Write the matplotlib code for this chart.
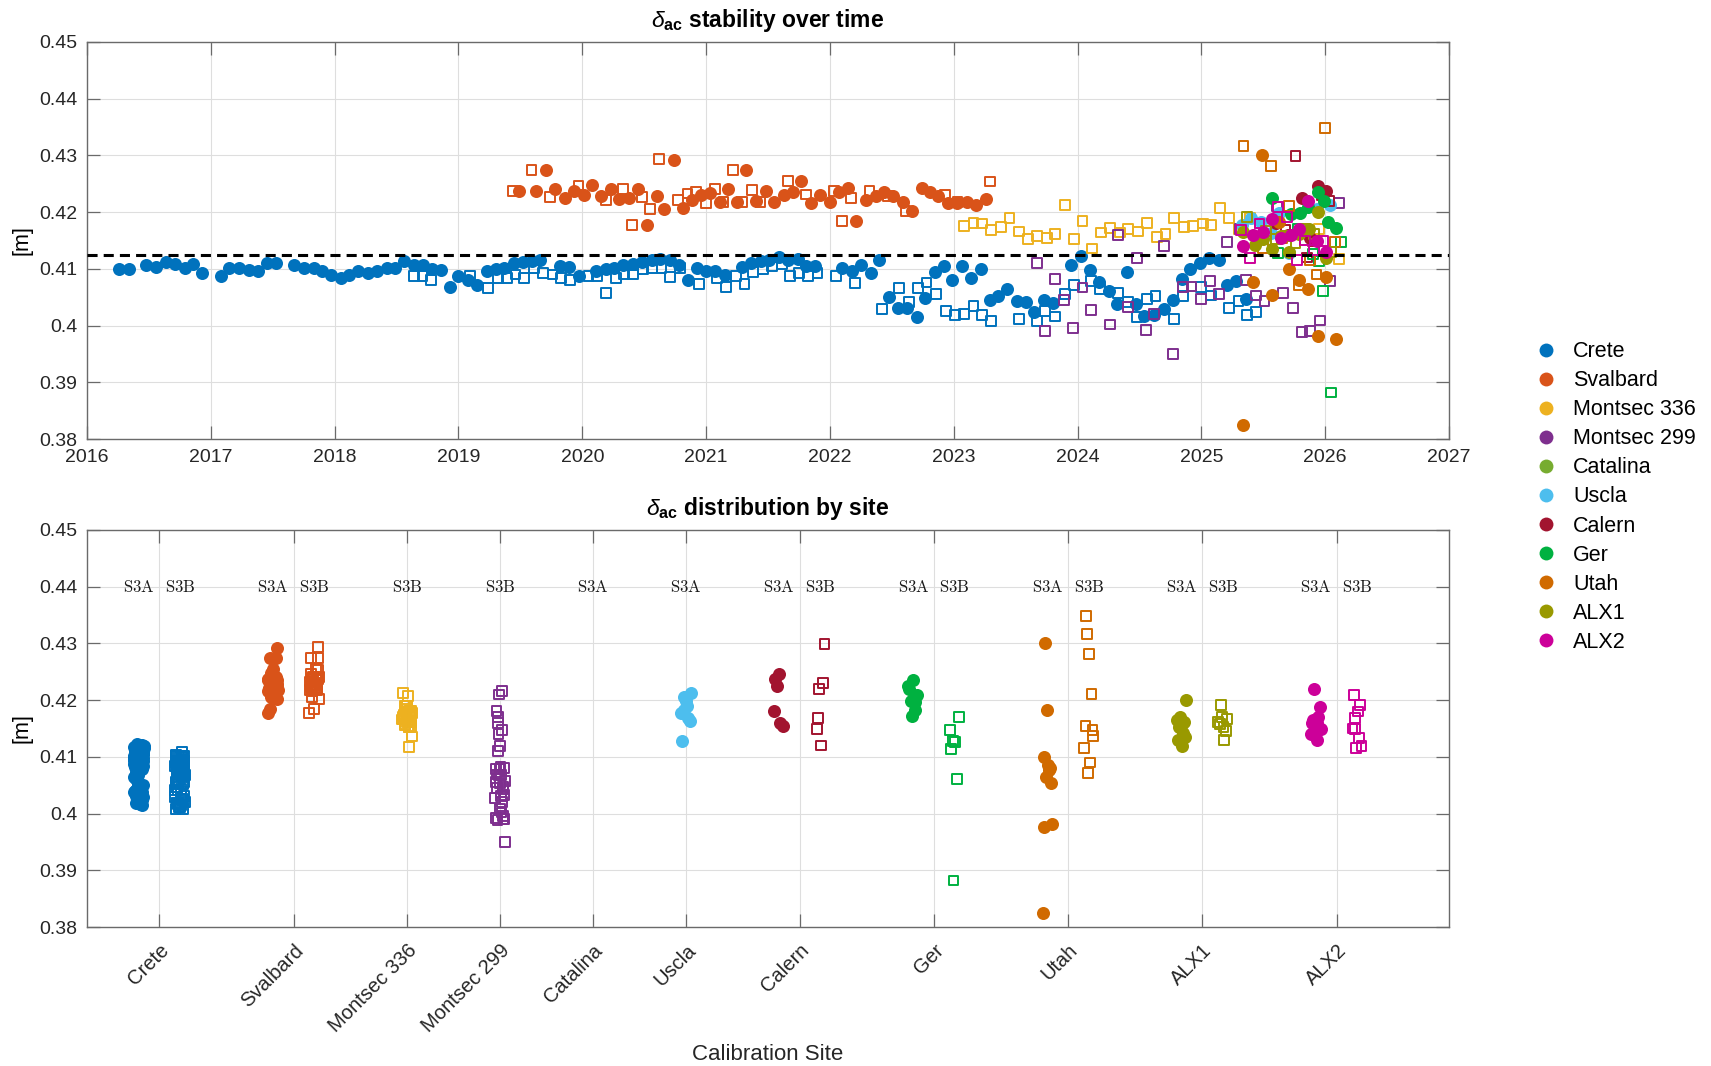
import numpy as np
import matplotlib
matplotlib.use("Agg")
import matplotlib.pyplot as plt
from matplotlib.lines import Line2D

plt.rcParams['font.family'] = ['Liberation Sans', 'DejaVu Sans']
plt.rcParams['mathtext.fontset'] = 'custom'
plt.rcParams['mathtext.rm'] = 'Liberation Sans'
plt.rcParams['mathtext.it'] = 'Liberation Sans:italic'
plt.rcParams['mathtext.bf'] = 'Liberation Sans:bold'

# ---------------- data ----------------
site_names = ['Crete', 'Svalbard', 'Montsec 336', 'Montsec 299', 'Catalina', 'Uscla',
              'Calern', 'Ger', 'Utah', 'ALX1', 'ALX2']
site_colors = ['#0072BD', '#D95319', '#EDB120', '#7E2F8E', '#77AC30', '#4DBEEE',
               '#A2142F', '#00B140', '#D06A00', '#999900', '#CC0099']
ref_value = 0.4124

crete_s3a = np.array([
    (2016.26, 0.4100), (2016.34, 0.4100), (2016.48, 0.4106), (2016.56, 0.4103), (2016.64, 0.4112),
    (2016.71, 0.4108), (2016.79, 0.4102), (2016.86, 0.4108), (2016.93, 0.4093), (2017.08, 0.4087),
    (2017.15, 0.4102), (2017.23, 0.4102), (2017.31, 0.4098), (2017.38, 0.4096), (2017.45, 0.4111),
    (2017.53, 0.4111), (2017.67, 0.4106), (2017.75, 0.4102), (2017.83, 0.4102), (2017.90, 0.4096),
    (2017.97, 0.4090), (2018.05, 0.4084), (2018.12, 0.4089), (2018.19, 0.4096), (2018.27, 0.4093),
    (2018.34, 0.4096), (2018.42, 0.4102), (2018.49, 0.4102), (2018.56, 0.4114), (2018.64, 0.4106),
    (2018.71, 0.4106), (2018.79, 0.4099), (2018.86, 0.4098), (2018.93, 0.4068), (2019.00, 0.4087),
    (2019.08, 0.4081), (2019.15, 0.4071), (2019.23, 0.4096), (2019.30, 0.4099), (2019.37, 0.4102),
    (2019.45, 0.4111), (2019.52, 0.4112), (2019.59, 0.4113), (2019.66, 0.4115), (2019.82, 0.4105),
    (2019.89, 0.4104), (2019.97, 0.4088), (2020.11, 0.4096), (2020.19, 0.4100), (2020.26, 0.4102),
    (2020.33, 0.4106), (2020.41, 0.4108), (2020.48, 0.4112), (2020.56, 0.4116), (2020.63, 0.4118),
    (2020.71, 0.4116), (2020.78, 0.4106), (2020.85, 0.4080), (2020.93, 0.4102), (2021.00, 0.4096),
    (2021.07, 0.4096), (2021.15, 0.4090), (2021.29, 0.4104), (2021.36, 0.4111), (2021.44, 0.4114),
    (2021.51, 0.4116), (2021.59, 0.4121), (2021.66, 0.4116), (2021.74, 0.4118), (2021.81, 0.4105),
    (2021.88, 0.4105), (2022.10, 0.4102), (2022.18, 0.4096), (2022.25, 0.4106), (2022.33, 0.4092),
    (2022.40, 0.4116), (2022.48, 0.4050), (2022.55, 0.4031), (2022.62, 0.4031), (2022.70, 0.4015),
    (2022.77, 0.4049), (2022.85, 0.4094), (2022.92, 0.4105), (2022.99, 0.4080), (2023.07, 0.4105),
    (2023.14, 0.4084), (2023.22, 0.4099), (2023.29, 0.4045), (2023.36, 0.4052), (2023.43, 0.4065),
    (2023.51, 0.4043), (2023.58, 0.4041), (2023.65, 0.4024), (2023.73, 0.4045), (2023.80, 0.4039),
    (2023.95, 0.4106), (2024.03, 0.4122), (2024.10, 0.4098), (2024.17, 0.4076), (2024.25, 0.4061),
    (2024.32, 0.4038), (2024.40, 0.4095), (2024.47, 0.4038), (2024.54, 0.4017), (2024.62, 0.4019),
    (2024.70, 0.4030), (2024.77, 0.4045), (2024.84, 0.4082), (2024.91, 0.4099), (2024.99, 0.4111),
    (2025.06, 0.4119), (2025.14, 0.4115), (2025.21, 0.4071), (2025.28, 0.4078), (2025.36, 0.4047)])

crete_s3b = np.array([
    (2018.64, 0.4087), (2018.71, 0.4087), (2018.78, 0.4080), (2019.09, 0.4087), (2019.24, 0.4066),
    (2019.32, 0.4084), (2019.39, 0.4084), (2019.46, 0.4090), (2019.53, 0.4084), (2019.61, 0.4102),
    (2019.68, 0.4093), (2019.76, 0.4090), (2019.83, 0.4084), (2019.90, 0.4080), (2020.05, 0.4088),
    (2020.12, 0.4087), (2020.19, 0.4058), (2020.27, 0.4084), (2020.34, 0.4090), (2020.41, 0.4090),
    (2020.49, 0.4100), (2020.56, 0.4102), (2020.64, 0.4102), (2020.71, 0.4086), (2020.79, 0.4102),
    (2020.94, 0.4074), (2021.09, 0.4084), (2021.16, 0.4068), (2021.24, 0.4087), (2021.31, 0.4074),
    (2021.38, 0.4094), (2021.46, 0.4100), (2021.53, 0.4104), (2021.61, 0.4108), (2021.68, 0.4088),
    (2021.75, 0.4092), (2021.82, 0.4087), (2021.90, 0.4092), (2022.05, 0.4087), (2022.20, 0.4075),
    (2022.42, 0.4029), (2022.56, 0.4066), (2022.64, 0.4041), (2022.71, 0.4066), (2022.78, 0.4076),
    (2022.86, 0.4055), (2022.94, 0.4025), (2023.01, 0.4019), (2023.08, 0.4021), (2023.16, 0.4034),
    (2023.23, 0.4018), (2023.30, 0.4008), (2023.53, 0.4011), (2023.67, 0.4008), (2023.74, 0.4025),
    (2023.82, 0.4016), (2023.90, 0.4055), (2023.97, 0.4072), (2024.11, 0.4078), (2024.18, 0.4065),
    (2024.33, 0.4058), (2024.41, 0.4041), (2024.48, 0.4015), (2024.56, 0.4047), (2024.63, 0.4052),
    (2024.78, 0.4012), (2024.85, 0.4052), (2025.00, 0.4068), (2025.08, 0.4053), (2025.22, 0.4031),
    (2025.30, 0.4043), (2025.37, 0.4019), (2025.44, 0.4024)])

svalbard_s3a = np.array([
    (2019.49, 0.4237), (2019.63, 0.4237), (2019.71, 0.4274), (2019.78, 0.4241), (2019.86, 0.4225),
    (2019.93, 0.4237), (2020.01, 0.4231), (2020.08, 0.4247), (2020.15, 0.4228), (2020.23, 0.4241),
    (2020.30, 0.4224), (2020.38, 0.4225), (2020.45, 0.4241), (2020.52, 0.4178), (2020.60, 0.4228),
    (2020.66, 0.4206), (2020.74, 0.4292), (2020.81, 0.4208), (2020.89, 0.4222), (2020.96, 0.4231),
    (2021.03, 0.4234), (2021.11, 0.4218), (2021.18, 0.4240), (2021.25, 0.4218), (2021.32, 0.4274),
    (2021.40, 0.4219), (2021.48, 0.4237), (2021.55, 0.4218), (2021.63, 0.4231), (2021.70, 0.4235),
    (2021.77, 0.4255), (2021.85, 0.4216), (2021.92, 0.4231), (2022.00, 0.4218), (2022.07, 0.4235),
    (2022.15, 0.4243), (2022.21, 0.4184), (2022.29, 0.4222), (2022.37, 0.4228), (2022.44, 0.4236),
    (2022.51, 0.4228), (2022.59, 0.4218), (2022.66, 0.4202), (2022.74, 0.4243), (2022.81, 0.4235),
    (2022.87, 0.4229), (2022.95, 0.4216), (2023.03, 0.4216), (2023.11, 0.4218), (2023.18, 0.4213),
    (2023.26, 0.4223)])

svalbard_s3b = np.array([
    (2019.44, 0.4237), (2019.59, 0.4274), (2019.74, 0.4226), (2019.97, 0.4247), (2020.19, 0.4222),
    (2020.33, 0.4241), (2020.40, 0.4178), (2020.48, 0.4226), (2020.55, 0.4206), (2020.62, 0.4293),
    (2020.77, 0.4221), (2020.85, 0.4233), (2020.92, 0.4235), (2021.00, 0.4216), (2021.07, 0.4241),
    (2021.14, 0.4218), (2021.22, 0.4274), (2021.29, 0.4218), (2021.37, 0.4239), (2021.44, 0.4218),
    (2021.66, 0.4255), (2021.81, 0.4231), (2022.03, 0.4237), (2022.10, 0.4184), (2022.17, 0.4225),
    (2022.32, 0.4237), (2022.47, 0.4228), (2022.61, 0.4202), (2022.93, 0.4231), (2023.03, 0.4218),
    (2023.29, 0.4254)])

montsec336_s3b = np.array([
    (2023.08, 0.4176), (2023.16, 0.4181), (2023.23, 0.4180), (2023.30, 0.4169), (2023.38, 0.4174),
    (2023.45, 0.4189), (2023.53, 0.4166), (2023.60, 0.4153), (2023.67, 0.4158), (2023.75, 0.4155),
    (2023.82, 0.4161), (2023.90, 0.4212), (2023.97, 0.4153), (2024.04, 0.4184), (2024.12, 0.4136),
    (2024.19, 0.4164), (2024.26, 0.4172), (2024.34, 0.4164), (2024.41, 0.4171), (2024.49, 0.4166),
    (2024.56, 0.4181), (2024.64, 0.4156), (2024.71, 0.4161), (2024.78, 0.4189), (2024.86, 0.4174),
    (2024.93, 0.4176), (2025.01, 0.4180), (2025.08, 0.4178), (2025.15, 0.4207), (2025.22, 0.4190),
    (2025.30, 0.4171), (2025.39, 0.4190), (2025.95, 0.4170), (2026.11, 0.4118)])

montsec299_s3b = np.array([
    (2023.67, 0.4111), (2023.74, 0.3990), (2023.82, 0.4082), (2023.89, 0.4045), (2023.96, 0.3996),
    (2024.04, 0.4067), (2024.11, 0.4027), (2024.26, 0.4002), (2024.33, 0.4160), (2024.41, 0.4033),
    (2024.48, 0.4119), (2024.55, 0.3992), (2024.62, 0.4021), (2024.70, 0.4140), (2024.77, 0.3950),
    (2024.85, 0.4068), (2024.92, 0.4069), (2025.00, 0.4047), (2025.07, 0.4078), (2025.14, 0.4055),
    (2025.21, 0.4148), (2025.31, 0.4170), (2025.36, 0.4081), (2025.44, 0.4053), (2025.47, 0.4181),
    (2025.51, 0.4043), (2025.61, 0.4210), (2025.66, 0.4058), (2025.74, 0.4031), (2025.81, 0.3988),
    (2025.88, 0.3990), (2025.96, 0.4009), (2026.04, 0.4078), (2026.11, 0.4216)])

catalina_s3a = np.empty((0, 2))

uscla_s3a = np.array([
    (2025.33, 0.4177), (2025.40, 0.4190), (2025.48, 0.4183), (2025.56, 0.4163), (2025.63, 0.4198),
    (2025.71, 0.4128), (2025.86, 0.4168), (2025.93, 0.4205), (2026.04, 0.4212)])

calern_s3a = np.array([
    (2025.60, 0.4181), (2025.70, 0.4160), (2025.81, 0.4225), (2025.88, 0.4154), (2025.94, 0.4246),
    (2026.01, 0.4237)])
calern_s3b = np.array([
    (2025.68, 0.4168), (2025.76, 0.4299), (2025.85, 0.4120), (2025.90, 0.4149), (2025.97, 0.4230),
    (2026.03, 0.4219)])

ger_s3a = np.array([
    (2025.57, 0.4225), (2025.72, 0.4196), (2025.80, 0.4199), (2025.86, 0.4209), (2025.94, 0.4236),
    (2025.99, 0.4219), (2026.02, 0.4183), (2026.09, 0.4172)])
ger_s3b = np.array([
    (2025.62, 0.4128), (2025.78, 0.4171), (2025.90, 0.4126), (2025.95, 0.4114), (2025.98, 0.4061),
    (2026.05, 0.3882), (2026.13, 0.4147)])

utah_s3a = np.array([
    (2025.34, 0.3825), (2025.42, 0.4077), (2025.49, 0.4301), (2025.57, 0.4054), (2025.63, 0.4182),
    (2025.71, 0.4100), (2025.79, 0.4080), (2025.86, 0.4064), (2025.94, 0.3982), (2026.01, 0.4085),
    (2026.09, 0.3977)])
utah_s3b = np.array([
    (2025.34, 0.4316), (2025.50, 0.4137), (2025.56, 0.4281), (2025.65, 0.4155), (2025.71, 0.4211),
    (2025.79, 0.4071), (2025.88, 0.4116), (2025.93, 0.4090), (2026.00, 0.4348), (2026.08, 0.4148)])

alx1_s3a = np.array([
    (2025.34, 0.4165), (2025.43, 0.4142), (2025.50, 0.4153), (2025.57, 0.4135), (2025.64, 0.4158),
    (2025.71, 0.4130), (2025.79, 0.4162), (2025.87, 0.4171), (2025.94, 0.4200), (2026.01, 0.4119)])
alx1_s3b = np.array([
    (2025.37, 0.4191), (2025.52, 0.4167), (2025.60, 0.4152), (2025.68, 0.4158), (2025.76, 0.4145),
    (2025.83, 0.4171), (2025.91, 0.4162), (2026.05, 0.4130)])

alx2_s3a = np.array([
    (2025.34, 0.4140), (2025.42, 0.4160), (2025.50, 0.4165), (2025.57, 0.4188), (2025.64, 0.4155),
    (2025.72, 0.4160), (2025.79, 0.4170), (2025.86, 0.4219), (2025.93, 0.4150), (2026.01, 0.4130)])
alx2_s3b = np.array([
    (2025.32, 0.4168), (2025.39, 0.4119), (2025.47, 0.4180), (2025.62, 0.4209), (2025.69, 0.4191),
    (2025.77, 0.4116), (2025.84, 0.4150), (2025.91, 0.4133), (2025.98, 0.4149)])

empty = np.empty((0, 2))
site_s3a = [crete_s3a, svalbard_s3a, empty, empty, catalina_s3a, uscla_s3a,
            calern_s3a, ger_s3a, utah_s3a, alx1_s3a, alx2_s3a]
site_s3b = [crete_s3b, svalbard_s3b, montsec336_s3b, montsec299_s3b, empty, empty,
            calern_s3b, ger_s3b, utah_s3b, alx1_s3b, alx2_s3b]
# which mission labels appear per site in the distribution panel
site_missions = [['S3A', 'S3B'], ['S3A', 'S3B'], ['S3B'], ['S3B'], ['S3A'], ['S3A'],
                 ['S3A', 'S3B'], ['S3A', 'S3B'], ['S3A', 'S3B'], ['S3A', 'S3B'], ['S3A', 'S3B']]

# ---------------- layout of the distribution axis ----------------
half_gap = 0.154      # half distance between S3A and S3B groups
site_gap = 0.694      # gap between neighbouring groups
site_pos = [0.54]
for k in range(1, len(site_names)):
    step = site_gap + half_gap * (len(site_missions[k - 1]) - 1) + half_gap * (len(site_missions[k]) - 1)
    site_pos.append(site_pos[-1] + step)

# ---------------- figure ----------------
W, H = 1711, 1066
fig = plt.figure(figsize=(W / 100, H / 100), dpi=100)

def px_axes(l, t, r, b):
    return fig.add_axes([l / W, 1 - b / H, (r - l) / W, (b - t) / H])

ax1 = px_axes(87, 42, 1449, 439)
ax2 = px_axes(87, 530, 1449, 927)

spine_col = '#6a6a6a'
grid_col = '#dedede'
S_CIRC = 88
S_SQ = 50
SQ_LW = 1.4

def style(ax):
    for sp in ax.spines.values():
        sp.set_color(spine_col)
        sp.set_linewidth(1.0)
    ax.tick_params(direction='in', length=9.5, width=0.9, color=spine_col,
                   top=True, right=True, labelsize=14, labelcolor='#262626', pad=7)
    ax.grid(True, color=grid_col, linewidth=0.8, zorder=0)
    ax.set_axisbelow(True)
    ax.set_ylim(0.38, 0.45)
    yt = np.round(np.arange(0.38, 0.4501, 0.01), 2)
    ax.set_yticks(yt)
    ax.set_yticklabels(['%g' % v for v in yt])
    ax.set_ylabel('[m]', fontsize=15.5)
    ax.yaxis.set_label_coords(-0.040, 0.5)

# ---- top: time series ----
style(ax1)
for k in range(len(site_names)):
    a, b = site_s3a[k], site_s3b[k]
    c = site_colors[k]
    if len(a):
        ax1.scatter(a[:, 0], a[:, 1], s=S_CIRC, marker='o', color=c, linewidths=0, zorder=3)
    if len(b):
        ax1.scatter(b[:, 0], b[:, 1], s=S_SQ, marker='s', facecolors='none',
                    edgecolors=c, linewidths=SQ_LW, zorder=3)
ax1.axhline(ref_value, color='black', linewidth=2.2, linestyle=(0, (3.3, 2.0)), zorder=4)
ax1.set_xlim(2016, 2027)
ax1.set_xticks(np.arange(2016, 2028))
ax1.set_title(r'$\delta_{\mathbf{ac}}$ stability over time', fontsize=16.5,
              fontweight='bold', pad=11)

# ---- bottom: distribution by site ----
style(ax2)
ax2.set_xlim(0, 10.166)
jit = 0.037
for k in range(len(site_names)):
    c = site_colors[k]
    miss = site_missions[k]
    if len(miss) == 2:
        xs = [site_pos[k] - half_gap, site_pos[k] + half_gap]
    else:
        xs = [site_pos[k]]
    xpos = dict(zip(miss, xs))
    for m in miss:
        ax2.text(xpos[m], 0.44, r'$\mathrm{%s}$' % m, ha='center', va='center',
                 fontsize=12, math_fontfamily='cm', color='#1a1a1a', zorder=5)
    a, b = site_s3a[k], site_s3b[k]
    if len(a):
        n = len(a)
        off = ((np.arange(n) * 0.6180339887) % 1 - 0.5) * 2 * jit
        ax2.scatter(xpos['S3A'] + off, a[:, 1], s=S_CIRC, marker='o', color=c,
                    linewidths=0, zorder=3)
    if len(b):
        n = len(b)
        off = ((np.arange(n) * 0.6180339887 + 0.3) % 1 - 0.5) * 2 * jit
        ax2.scatter(xpos['S3B'] + off, b[:, 1], s=S_SQ, marker='s', facecolors='none',
                    edgecolors=c, linewidths=SQ_LW, zorder=3)
ax2.set_xticks(site_pos)
ax2.set_xticklabels(site_names, rotation=45, ha='right', va='top',
                    rotation_mode='anchor')
ax2.tick_params(axis='x', pad=10, labelsize=14.5)
ax2.set_xlabel('Calibration Site', fontsize=16, color='#262626')
ax2.xaxis.set_label_coords(0.5, -0.295)
ax2.set_title(r'$\delta_{\mathbf{ac}}$ distribution by site', fontsize=16.5,
              fontweight='bold', pad=11)

# ---- legend ----
handles = [Line2D([], [], marker='o', linestyle='none', color=c, markersize=10,
                  markeredgewidth=0) for c in site_colors]
fig.legend(handles, site_names, loc='center left', bbox_to_anchor=(1537 / W, 1 - 497 / H),
           frameon=False, fontsize=15.5, handlelength=0.8, handletextpad=0.88,
           labelspacing=0.375, borderaxespad=0, borderpad=0)

fig.savefig('out.png', dpi=100)
